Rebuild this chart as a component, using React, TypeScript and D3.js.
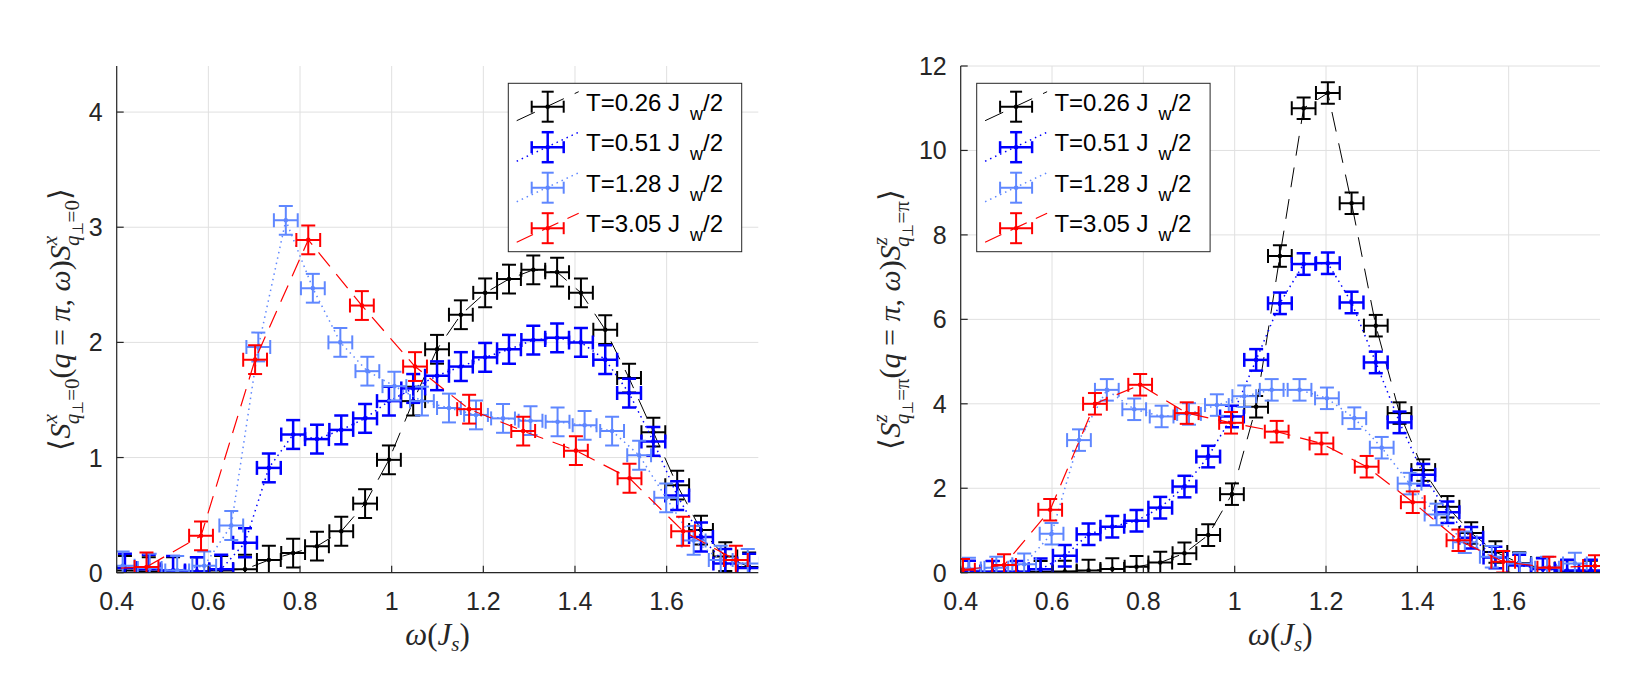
import React from 'react';
import * as d3 from 'd3';

// frequency grids (black and blue runs share one grid)
const omegaLow = [0.418, 0.47, 0.523, 0.575, 0.628, 0.68, 0.732, 0.785, 0.837, 0.89, 0.942, 0.994, 1.047, 1.099, 1.151, 1.204, 1.256, 1.309, 1.361, 1.413, 1.466, 1.518, 1.571, 1.623, 1.675, 1.728, 1.78];
const omegaMidSx = [0.413, 0.472, 0.532, 0.591, 0.65, 0.709, 0.769, 0.828, 0.888, 0.947, 1.006, 1.066, 1.125, 1.184, 1.243, 1.303, 1.362, 1.421, 1.481, 1.54, 1.599, 1.659, 1.718, 1.777];
const omegaHotSx = [0.348, 0.465, 0.584, 0.702, 0.818, 0.935, 1.051, 1.169, 1.287, 1.402, 1.519, 1.636, 1.751];
const omegaMidSz = [0.418, 0.478, 0.539, 0.599, 0.659, 0.72, 0.78, 0.84, 0.9, 0.961, 1.021, 1.081, 1.142, 1.202, 1.262, 1.322, 1.383, 1.442, 1.504, 1.563, 1.624, 1.684, 1.745];
const omegaHotSz = [0.405, 0.495, 0.596, 0.694, 0.793, 0.895, 0.992, 1.092, 1.19, 1.289, 1.39, 1.49, 1.588, 1.689, 1.789];

// S^x, q_perp = 0
const sxT026 = [0.02, 0.01, 0.01, 0.01, 0.02, 0.03, 0.11, 0.17, 0.23, 0.36, 0.6, 0.98, 1.49, 1.94, 2.24, 2.43, 2.55, 2.63, 2.61, 2.43, 2.11, 1.69, 1.22, 0.76, 0.37, 0.14, 0.05];
const sxT051 = [0.04, 0.03, 0.02, 0.01, 0.03, 0.26, 0.91, 1.2, 1.16, 1.24, 1.34, 1.49, 1.6, 1.71, 1.79, 1.87, 1.94, 2.02, 2.04, 2.0, 1.85, 1.56, 1.14, 0.67, 0.31, 0.08, 0.04];
const sxT128 = [0.06, 0.04, 0.02, 0.06, 0.41, 1.96, 3.06, 2.47, 2.0, 1.75, 1.62, 1.49, 1.43, 1.37, 1.34, 1.32, 1.31, 1.28, 1.23, 1.02, 0.65, 0.28, 0.11, 0.08];
const sxT305 = [0.03, 0.05, 0.32, 1.85, 2.89, 2.32, 1.79, 1.42, 1.23, 1.06, 0.82, 0.36, 0.11];

// S^z, q_perp = pi
const szT026 = [0.02, 0.02, 0.02, 0.02, 0.03, 0.05, 0.09, 0.14, 0.24, 0.46, 0.89, 1.86, 3.93, 7.5, 11.0, 11.36, 8.75, 5.85, 3.78, 2.43, 1.56, 0.94, 0.49, 0.23, 0.1, 0.04, 0.03];
const szT051 = [0.03, 0.02, 0.02, 0.08, 0.4, 0.91, 1.09, 1.23, 1.54, 2.04, 2.75, 3.7, 5.04, 6.38, 7.31, 7.33, 6.4, 4.98, 3.56, 2.32, 1.43, 0.83, 0.36, 0.17, 0.09, 0.05, 0.05];
const szT128 = [0.1, 0.12, 0.2, 0.92, 3.14, 4.33, 3.87, 3.7, 3.76, 3.97, 4.18, 4.33, 4.33, 4.13, 3.66, 2.96, 2.11, 1.38, 0.72, 0.38, 0.22, 0.12, 0.22];
const szT305 = [0.07, 0.18, 1.49, 4.0, 4.45, 3.78, 3.55, 3.34, 3.06, 2.51, 1.67, 0.77, 0.26, 0.12, 0.16];

const tempLabels = ['T=0.26 J', 'T=0.51 J', 'T=1.28 J', 'T=3.05 J'];
const xTicks = [0.4, 0.6, 0.8, 1, 1.2, 1.4, 1.6];
const sxTicks = [0, 1, 2, 3, 4];
const szTicks = [0, 2, 4, 6, 8, 10, 12];

const SANS = '"Liberation Sans", Arial, Helvetica, sans-serif';
const SERIF = '"Liberation Serif", "Times New Roman", serif';
const AXIS = '#262626';
const GRID = '#e0e0e0';

const styles = [
  { color: '#000000', dash: '20 12', lw: 1, bw: 2 },
  { color: '#0000ff', dash: '1.5 4', lw: 1.5, bw: 2.5 },
  { color: '#5f87ff', dash: '1.5 4', lw: 1.5, bw: 2 },
  { color: '#ff0000', dash: '18 10', lw: 1.2, bw: 2 },
];

const TOP = 66;
const BOTTOM = 572.7;
const X_ERR = 0.026;
const CAP = 7;

type Series = { omega: number[]; value: number[] };

function YLabel({ x, y, comp, qp }: { x: number; y: number; comp: string; qp: string }) {
  const op = (
    <>
      <tspan fontStyle="italic">S</tspan>
      <tspan fontSize={21} dy={-13} fontStyle="italic">{comp}</tspan>
      <tspan fontSize={21} dx={-10} dy={22} fontStyle="italic">q</tspan>
      <tspan fontSize={15} dy={4}>⊥</tspan>
      <tspan fontSize={21} dy={-4}>={qp}</tspan>
    </>
  );
  return (
    <text transform={`translate(${x},${y}) rotate(-90)`} textAnchor="middle"
      fontFamily={SERIF} fontSize={30} fill={AXIS}>
      <tspan>⟨</tspan>
      {op}
      <tspan dy={-9}>(</tspan>
      <tspan fontStyle="italic">q</tspan>
      <tspan> = </tspan>
      <tspan fontStyle="italic">π</tspan>
      <tspan>, </tspan>
      <tspan fontStyle="italic">ω</tspan>
      <tspan>)</tspan>
      {op}
      <tspan dy={-9}>⟩</tspan>
    </text>
  );
}

function Panel(props: {
  id: string; left: number; right: number; yMax: number; yTicks: number[];
  yErr: number; series: Series[]; legendX: number; labelX: number; comp: string; qp: string;
}) {
  const { id, left, right, yMax, yTicks, yErr, series, legendX, labelX, comp, qp } = props;
  const x = d3.scaleLinear().domain([0.4, 1.8]).range([left, right]);
  const y = d3.scaleLinear().domain([0, yMax]).range([BOTTOM, TOP]);
  const line = d3.line<number>();

  return (
    <g>
      <defs>
        <clipPath id={id}>
          <rect x={left} y={TOP} width={right - left} height={BOTTOM - TOP} />
        </clipPath>
      </defs>

      {/* grid */}
      {xTicks.map((t) => (
        <line key={'gx' + t} x1={x(t)} x2={x(t)} y1={TOP} y2={BOTTOM} stroke={GRID} strokeWidth={1} />
      ))}
      {yTicks.map((t) => (
        <line key={'gy' + t} x1={left} x2={right} y1={y(t)} y2={y(t)} stroke={GRID} strokeWidth={1} />
      ))}

      {/* data with error bars */}
      <g clipPath={`url(#${id})`}>
        {series.map((s, si) => {
          const st = styles[si];
          const pts = s.omega.map((w, i) => [x(w), y(s.value[i])] as [number, number]);
          return (
            <g key={si}>
              <path d={line(pts) || ''} fill="none" stroke={st.color} strokeWidth={st.lw} strokeDasharray={st.dash} />
              {s.omega.map((w, i) => {
                const v = s.value[i];
                const cx = x(w);
                const cy = y(v);
                const yl = y(v - yErr);
                const yh = y(v + yErr);
                const xl = x(w - X_ERR);
                const xh = x(w + X_ERR);
                return (
                  <g key={i} stroke={st.color} strokeWidth={st.bw}>
                    <line x1={cx} x2={cx} y1={yl} y2={yh} />
                    <line x1={cx - CAP} x2={cx + CAP} y1={yl} y2={yl} />
                    <line x1={cx - CAP} x2={cx + CAP} y1={yh} y2={yh} />
                    <line x1={xl} x2={xh} y1={cy} y2={cy} />
                    <line x1={xl} x2={xl} y1={cy - CAP} y2={cy + CAP} />
                    <line x1={xh} x2={xh} y1={cy - CAP} y2={cy + CAP} />
                    <circle cx={cx} cy={cy} r={2.3} fill={st.color} stroke="none" />
                  </g>
                );
              })}
            </g>
          );
        })}
      </g>

      {/* axes */}
      <line x1={left} x2={left} y1={TOP} y2={BOTTOM} stroke={AXIS} strokeWidth={1.2} />
      <line x1={left} x2={right} y1={BOTTOM} y2={BOTTOM} stroke={AXIS} strokeWidth={1.2} />
      {xTicks.map((t) => (
        <g key={'tx' + t}>
          <line x1={x(t)} x2={x(t)} y1={BOTTOM} y2={BOTTOM - 7} stroke={AXIS} strokeWidth={1.2} />
          <text x={x(t)} y={610} textAnchor="middle" fontFamily={SANS} fontSize={25} fill={AXIS}>{t}</text>
        </g>
      ))}
      {yTicks.map((t) => (
        <g key={'ty' + t}>
          <line x1={left} x2={left + 7} y1={y(t)} y2={y(t)} stroke={AXIS} strokeWidth={1.2} />
          <text x={left - 14} y={y(t)} dy="0.36em" textAnchor="end" fontFamily={SANS} fontSize={25} fill={AXIS}>{t}</text>
        </g>
      ))}

      {/* axis labels */}
      <text x={(left + right) / 2} y={645} textAnchor="middle" fontFamily={SERIF} fontSize={31} fill={AXIS}>
        <tspan fontStyle="italic">ω</tspan>
        <tspan>(</tspan>
        <tspan fontStyle="italic">J</tspan>
        <tspan fontSize={21} dy={6} fontStyle="italic">s</tspan>
        <tspan dy={-6}>)</tspan>
      </text>
      <YLabel x={labelX} y={(TOP + BOTTOM) / 2} comp={comp} qp={qp} />

      {/* legend */}
      <g transform={`translate(${legendX},83.3)`}>
        <rect x={0} y={0} width={233.4} height={168.4} fill="#fff" stroke={AXIS} strokeWidth={1} />
        {tempLabels.map((lab, i) => {
          const st = styles[i];
          const ry = 23.4 + i * 40.5;
          return (
            <g key={lab} transform={`translate(0,${ry})`}>
              <g transform="translate(39.4,0)" stroke={st.color}>
                <line x1={-31} y1={14} x2={31} y2={-15} strokeWidth={st.lw} strokeDasharray={st.dash} />
                <g strokeWidth={st.bw}>
                  <line x1={0} x2={0} y1={-15} y2={15} />
                  <line x1={-6} x2={6} y1={-15} y2={-15} />
                  <line x1={-6} x2={6} y1={15} y2={15} />
                  <line x1={-16} x2={16} y1={0} y2={0} />
                  <line x1={-16} x2={-16} y1={-6} y2={6} />
                  <line x1={16} x2={16} y1={-6} y2={6} />
                </g>
                <circle r={2.3} fill={st.color} stroke="none" />
              </g>
              <text x={77.7} y={4} fontFamily={SANS} fontSize={24} fill="#000">
                {lab}
                <tspan dx={10} dy={9} fontSize={18}>w</tspan>
                <tspan dy={-9}>/2</tspan>
              </text>
            </g>
          );
        })}
      </g>
    </g>
  );
}

export default function App() {
  const sx: Series[] = [
    { omega: omegaLow, value: sxT026 },
    { omega: omegaLow, value: sxT051 },
    { omega: omegaMidSx, value: sxT128 },
    { omega: omegaHotSx, value: sxT305 },
  ];
  const sz: Series[] = [
    { omega: omegaLow, value: szT026 },
    { omega: omegaLow, value: szT051 },
    { omega: omegaMidSz, value: szT128 },
    { omega: omegaHotSz, value: szT305 },
  ];
  return (
    <svg width={1650} height={675} style={{ position: 'absolute', left: 0, top: 0, background: '#fff' }}>
      <rect width={1650} height={675} fill="#fff" />
      <Panel id="clipSx" left={116.7} right={758.3} yMax={4.4} yTicks={sxTicks} yErr={0.125}
        series={sx} legendX={508.3} labelX={70} comp="x" qp="0" />
      <Panel id="clipSz" left={960.7} right={1600} yMax={12} yTicks={szTicks} yErr={0.255}
        series={sz} legendX={976.7} labelX={900} comp="z" qp="π" />
    </svg>
  );
}
